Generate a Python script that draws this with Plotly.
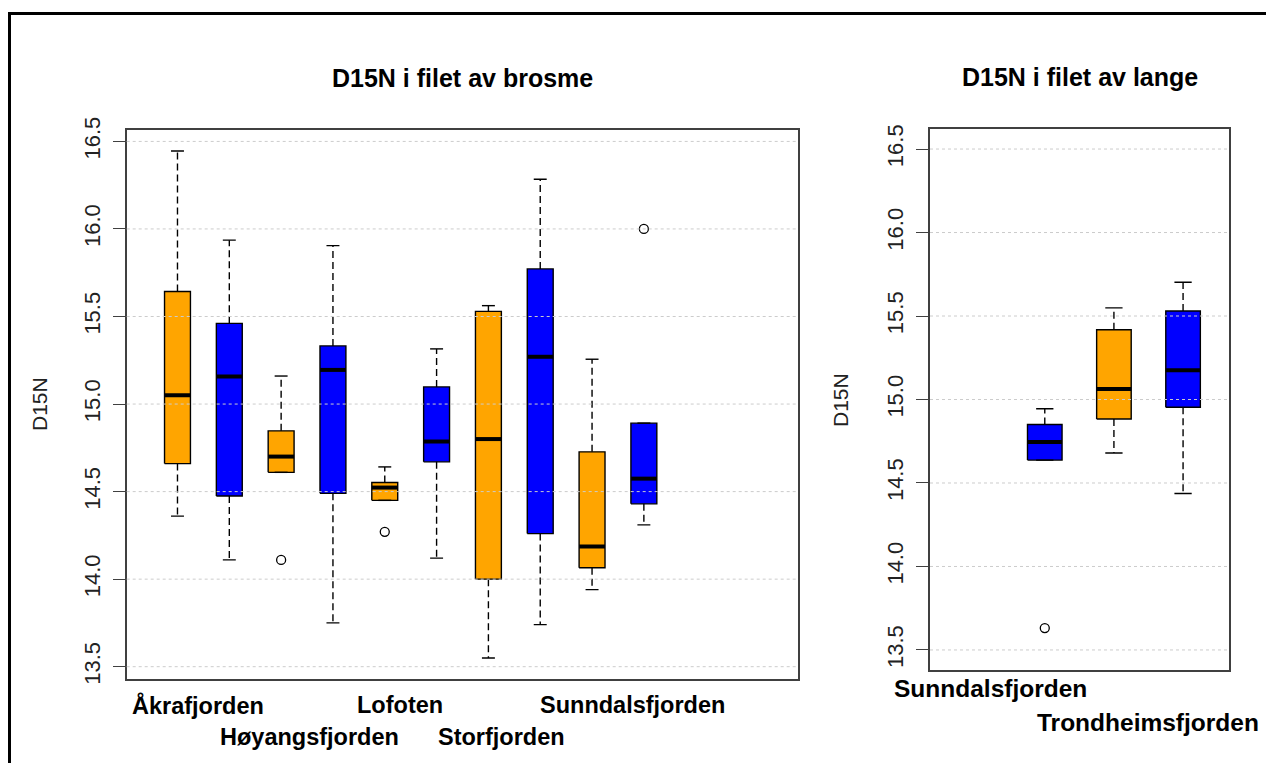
import plotly.graph_objects as go

W, H = 1274, 763

# ---------------- data: brosme (left panel) ----------------
brosme_sites = ["Åkrafjorden", "Høyangsfjorden", "Lofoten", "Storfjorden", "Sunndalsfjorden"]
brosme_box_colors = ["orange", "blue", "orange", "blue", "orange", "blue", "orange", "blue", "orange", "blue"]
brosme_whisk_lo = [14.36, 14.11, 14.61, 13.75, 14.45, 14.12, 13.55, 13.74, 13.94, 14.31]
brosme_q1 = [14.66, 14.475, 14.61, 14.49, 14.45, 14.67, 14.00, 14.26, 14.065, 14.43]
brosme_median = [15.05, 15.157, 14.70, 15.195, 14.523, 14.786, 14.80, 15.27, 14.187, 14.574]
brosme_q3 = [15.643, 15.461, 14.847, 15.332, 14.552, 15.098, 15.529, 15.772, 14.727, 14.891]
brosme_whisk_hi = [16.445, 15.936, 15.16, 15.905, 14.641, 15.315, 15.562, 16.284, 15.256, 14.891]
brosme_outliers = [[], [], [14.11], [], [14.27], [], [], [], [], [16.0]]

# ---------------- data: lange (right panel) ----------------
lange_sites = ["Sunndalsfjorden", "Trondheimsfjorden"]
lange_box_colors = ["blue", "orange", "blue"]
lange_whisk_lo = [14.637, 14.68, 14.437]
lange_q1 = [14.637, 14.883, 14.954]
lange_median = [14.746, 15.063, 15.175]
lange_q3 = [14.85, 15.418, 15.53]
lange_whisk_hi = [14.945, 15.549, 15.702]
lange_outliers = [[13.631], [], []]

y_ticks = [13.5, 14.0, 14.5, 15.0, 15.5, 16.0, 16.5]

# ---------------- layout constants ----------------
BOX_HALF = 0.25
CAP_HALF = 0.125
COLOR_MAP = {"orange": "#FFA500", "blue": "#0000FF"}
brosme_label_x = [1.39, 3.55, 5.29, 7.26, 9.79]
brosme_label_row = [0, 1, 0, 1, 0]
lange_label_x = [0.22, 2.50]
lange_label_row = [0, 1]

# the page body has an 8px margin; convert screen pixels to paper coordinates
OFF = 8


def px(x):
    return (x - OFF) / W


def py(y):
    return 1 - (y - OFF) / H


SANS = "Liberation Sans, Arial, Helvetica, sans-serif"

fig = go.Figure()


def add_boxes(xa, ya, colors, lo, q1, med, q3, hi, outl):
    pos = list(range(1, len(q1) + 1))
    for cname in ["orange", "blue"]:
        xs, ys = [], []
        for p, c, a, b in zip(pos, colors, q1, q3):
            if c != cname:
                continue
            xs += [p - BOX_HALF, p + BOX_HALF, p + BOX_HALF, p - BOX_HALF, p - BOX_HALF, None]
            ys += [a, a, b, b, a, None]
        fig.add_trace(go.Scatter(x=xs, y=ys, mode="lines", fill="toself",
                                 fillcolor=COLOR_MAP[cname],
                                 line=dict(color="#000000", width=1.4),
                                 xaxis=xa, yaxis=ya, hoverinfo="skip", showlegend=False))
    # whiskers (dashed)
    wx, wy = [], []
    for p, a, b, l, h in zip(pos, q1, q3, lo, hi):
        wx += [p, p, None, p, p, None]
        wy += [b, h, None, a, l, None]
    fig.add_trace(go.Scatter(x=wx, y=wy, mode="lines",
                             line=dict(color="#000000", width=1.4, dash="7px,4px"),
                             xaxis=xa, yaxis=ya, hoverinfo="skip", showlegend=False))
    # caps
    cx, cy = [], []
    for p, l, h in zip(pos, lo, hi):
        cx += [p - CAP_HALF, p + CAP_HALF, None, p - CAP_HALF, p + CAP_HALF, None]
        cy += [h, h, None, l, l, None]
    fig.add_trace(go.Scatter(x=cx, y=cy, mode="lines",
                             line=dict(color="#000000", width=1.4),
                             xaxis=xa, yaxis=ya, hoverinfo="skip", showlegend=False))
    # medians
    mx, my = [], []
    for p, m in zip(pos, med):
        mx += [p - BOX_HALF, p + BOX_HALF, None]
        my += [m, m, None]
    fig.add_trace(go.Scatter(x=mx, y=my, mode="lines",
                             line=dict(color="#000000", width=4),
                             xaxis=xa, yaxis=ya, hoverinfo="skip", showlegend=False))
    # outliers
    ox, oy = [], []
    for p, vals in zip(pos, outl):
        for v in vals:
            ox.append(p)
            oy.append(v)
    fig.add_trace(go.Scatter(x=ox, y=oy, mode="markers",
                             marker=dict(symbol="circle-open", size=9, color="#000000",
                                         line=dict(width=1.3)),
                             xaxis=xa, yaxis=ya, hoverinfo="skip", showlegend=False))


add_boxes("x", "y", brosme_box_colors, brosme_whisk_lo, brosme_q1, brosme_median,
          brosme_q3, brosme_whisk_hi, brosme_outliers)
add_boxes("x2", "y2", lange_box_colors, lange_whisk_lo, lange_q1, lange_median,
          lange_q3, lange_whisk_hi, lange_outliers)

frame_col = "#404040"
common_x = dict(showgrid=False, zeroline=False, showline=True, mirror=True,
                linecolor=frame_col, linewidth=1.5, showticklabels=False, ticks="",
                automargin=False, fixedrange=True)
common_y = dict(showgrid=False, zeroline=False, showline=True, mirror=True,
                linecolor=frame_col, linewidth=1.5, ticks="outside", ticklen=12,
                tickwidth=1.3, tickcolor=frame_col, tickvals=y_ticks, tickformat=".1f",
                tickangle=-90, ticklabelstandoff=4,
                tickfont=dict(family=SANS, size=22, color="#222222"),
                automargin=False, fixedrange=True)

fig.update_layout(
    width=W, height=H,
    margin=dict(l=0, r=0, t=0, b=0),
    paper_bgcolor="white", plot_bgcolor="white",
    showlegend=False,
    xaxis=dict(domain=[px(126.7), px(798.3)], range=[0.02, 12.98], **common_x),
    yaxis=dict(domain=[py(678.6), py(129.5)], range=[13.432, 16.568], anchor="x", **common_y),
    xaxis2=dict(domain=[px(930), px(1228.7)], range=[-0.66, 3.66], anchor="y2", **common_x),
    yaxis2=dict(domain=[py(670), py(129)], range=[13.38, 16.62], anchor="x2", **common_y),
)

shapes = []
# grid lines drawn over the boxes (dotted, light gray)
for xr, yr in [("x domain", "y"), ("x2 domain", "y2")]:
    for t in y_ticks:
        shapes.append(dict(type="line", xref=xr, yref=yr, x0=0, x1=1, y0=t, y1=t,
                           line=dict(color="#cccccc", width=1, dash="dot"), layer="above"))
# outer screenshot frame
shapes.append(dict(type="line", xref="paper", yref="paper", x0=px(8), x1=1,
                   y0=py(13.5), y1=py(13.5), line=dict(color="#000000", width=3)))
shapes.append(dict(type="line", xref="paper", yref="paper", x0=px(9.5), x1=px(9.5),
                   y0=py(12), y1=0, line=dict(color="#000000", width=3)))
fig.update_layout(shapes=shapes)

ann = []
ann.append(dict(text="D15N i filet av brosme", xref="paper", yref="paper",
                x=px(462.5), y=py(78), showarrow=False, xanchor="center", yanchor="middle",
                font=dict(family=SANS, size=25, color="#000000", weight="bold")))
ann.append(dict(text="D15N i filet av lange", xref="paper", yref="paper",
                x=px(1079.5), y=py(77), showarrow=False, xanchor="center", yanchor="middle",
                font=dict(family=SANS, size=25, color="#000000", weight="bold")))
ann.append(dict(text="D15N", xref="paper", yref="paper", x=px(39), y=py(404),
                textangle=-90, showarrow=False, xanchor="center", yanchor="middle",
                font=dict(family=SANS, size=21, color="#222222")))
ann.append(dict(text="D15N", xref="paper", yref="paper", x=px(840), y=py(400),
                textangle=-90, showarrow=False, xanchor="center", yanchor="middle",
                font=dict(family=SANS, size=21, color="#222222")))
brosme_rows_y = [py(705), py(737)]
for name, xv, r in zip(brosme_sites, brosme_label_x, brosme_label_row):
    ann.append(dict(text=name, xref="x", yref="paper", x=xv, y=brosme_rows_y[r],
                    showarrow=False, xanchor="center", yanchor="middle",
                    font=dict(family=SANS, size=23.5, color="#000000", weight="bold")))
lange_rows_y = [py(688), py(722)]
for name, xv, r in zip(lange_sites, lange_label_x, lange_label_row):
    ann.append(dict(text=name, xref="x2", yref="paper", x=xv, y=lange_rows_y[r],
                    showarrow=False, xanchor="center", yanchor="middle",
                    font=dict(family=SANS, size=24.5, color="#000000", weight="bold")))
fig.update_layout(annotations=ann)

fig.write_html("out.html")
